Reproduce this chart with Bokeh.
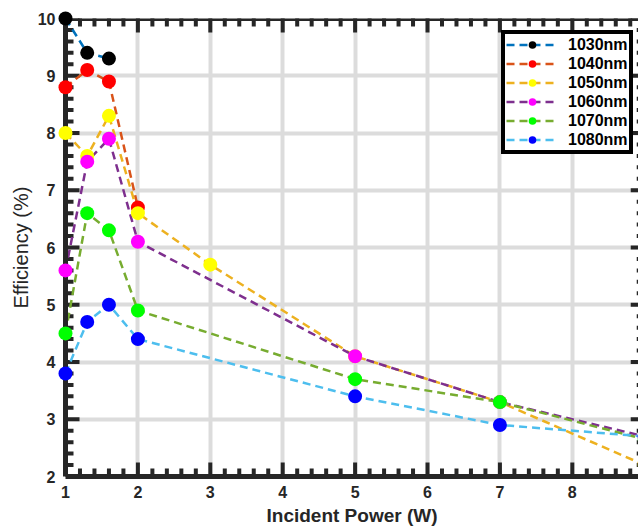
import math
from bokeh.plotting import figure
from bokeh.models import Range1d, LinearAxis, SingleIntervalTicker, Legend, Span
from bokeh.embed import file_html
from bokeh.resources import INLINE

# ---- data ----
series_names = ["1030nm", "1040nm", "1050nm", "1060nm", "1070nm", "1080nm"]
x_1030 = [1, 1.3, 1.6]
y_1030 = [10.0, 9.4, 9.3]
x_1040 = [1, 1.3, 1.6, 2]
y_1040 = [8.8, 9.1, 8.9, 6.7]
x_1050 = [1, 1.3, 1.6, 2, 3, 5, 7, 9]
y_1050 = [8.0, 7.6, 8.3, 6.6, 5.7, 4.1, 3.3, 2.2]
x_1060 = [1, 1.3, 1.6, 2, 5, 7, 9]
y_1060 = [5.6, 7.5, 7.9, 6.1, 4.1, 3.3, 2.7]
x_1070 = [1, 1.3, 1.6, 2, 5, 7, 9]
y_1070 = [4.5, 6.6, 6.3, 4.9, 3.7, 3.3, 2.65]
x_1080 = [1, 1.3, 1.6, 2, 5, 7, 9]
y_1080 = [3.8, 4.7, 5.0, 4.4, 3.4, 2.9, 2.7]

xs = [x_1030, x_1040, x_1050, x_1060, x_1070, x_1080]
ys = [y_1030, y_1040, y_1050, y_1060, y_1070, y_1080]

# tick values
x_ticks = [1, 2, 3, 4, 5, 6, 7, 8, 9]
y_ticks = [2, 3, 4, 5, 6, 7, 8, 9, 10]
minor_per_major = 5

line_colors = ["#0072BD", "#D95319", "#EDB120", "#7E2F8E", "#77AC30", "#4DBEEE"]
marker_colors = ["#000000", "#FF0000", "#FFFF00", "#FF00FF", "#00FF00", "#0000FF"]

x_label = "Incident Power (W)"
y_label = "Efficiency (%)"

FONT = "Liberation Sans"
AX = "#262626"

X0, X1 = x_ticks[0], x_ticks[-1]
Y0, Y1 = y_ticks[0], y_ticks[-1]

p = figure(width=638, height=528, output_backend="svg", toolbar_location=None,
           x_range=Range1d(X0, 8.914), y_range=Range1d(Y0, Y1),
           min_border_left=65, min_border_right=0, min_border_top=18,
           min_border_bottom=52, outline_line_color=None,
           x_axis_location=None, y_axis_location=None)
p.background_fill_color = "white"
p.border_fill_color = "white"

def style_axis(ax):
    ax.ticker = SingleIntervalTicker(interval=1)
    ax.axis_line_width = 5
    ax.axis_line_color = AX
    ax.major_tick_line_color = None
    ax.minor_tick_line_color = None
    ax.major_tick_in = 0
    ax.major_tick_out = 0
    ax.major_label_text_font = FONT
    ax.major_label_text_font_style = "bold"
    ax.major_label_text_font_size = "16px"
    ax.major_label_text_color = AX

xb = LinearAxis(axis_label=x_label)
style_axis(xb)
xb.major_label_standoff = 5
xb.axis_label_text_font = FONT
xb.axis_label_text_font_style = "bold"
xb.axis_label_text_font_size = "19px"
xb.axis_label_text_color = AX
xb.axis_label_standoff = 4
p.add_layout(xb, "below")

yl = LinearAxis(axis_label=y_label)
style_axis(yl)
yl.major_label_standoff = 6
yl.axis_label_text_font = FONT
yl.axis_label_text_font_style = "normal"
yl.axis_label_text_font_size = "20px"
yl.axis_label_text_color = AX
yl.axis_label_standoff = 3
p.add_layout(yl, "left")

# top spine
p.add_layout(Span(location=Y1, dimension="width", line_color=AX, line_width=5))

p.xgrid.grid_line_color = "#dcdcdc"
p.xgrid.grid_line_width = 4
p.ygrid.grid_line_color = "#dcdcdc"
p.ygrid.grid_line_width = 4
p.xgrid.ticker = SingleIntervalTicker(interval=1)
p.ygrid.ticker = SingleIntervalTicker(interval=1)

# inward ticks on all four sides (clipped to the frame so only the inner half shows)
def minor_vals(ticks):
    out = []
    for a, b in zip(ticks[:-1], ticks[1:]):
        for k in range(1, minor_per_major):
            out.append(a + (b - a) * k / minor_per_major)
    return out

x_minor = minor_vals(x_ticks)
y_minor = minor_vals(y_ticks)
MAJ, MIN = 28, 16
for yy in (Y0, Y1):
    p.scatter(x_ticks, [yy] * len(x_ticks), marker="dash", size=MAJ, angle=math.pi / 2,
              line_color=AX, line_width=4, fill_color=None)
    p.scatter(x_minor, [yy] * len(x_minor), marker="dash", size=MIN, angle=math.pi / 2,
              line_color=AX, line_width=4, fill_color=None)
for xx in (X0, X1):
    p.scatter([xx] * len(y_ticks), y_ticks, marker="dash", size=MAJ,
              line_color=AX, line_width=4, fill_color=None)
    p.scatter([xx] * len(y_minor), y_minor, marker="dash", size=MIN,
              line_color=AX, line_width=4, fill_color=None)

items = []
for name, x, y, lc, mc in zip(series_names, xs, ys, line_colors, marker_colors):
    r1 = p.line(x, y, line_color=lc, line_width=2.5, line_dash="8 5")
    r2 = p.scatter(x, y, marker="circle", size=14, fill_color=mc, line_color=mc,
                   line_width=0, level="overlay")
    items.append((name, [r1, r2]))

legend = Legend(items=items, location=(436, 322))
legend.border_line_color = "black"
legend.border_line_alpha = 1
legend.border_line_width = 4
legend.background_fill_color = "white"
legend.background_fill_alpha = 1
legend.label_text_font = FONT
legend.label_text_font_style = "bold"
legend.label_text_font_size = "16px"
legend.label_text_color = "black"
legend.glyph_width = 52
legend.glyph_height = 19
legend.label_height = 16
legend.spacing = 0
legend.padding = 1
legend.label_standoff = 10
legend.margin = 0
p.add_layout(legend, "center")

open("out.html", "w").write(file_html(p, INLINE))
